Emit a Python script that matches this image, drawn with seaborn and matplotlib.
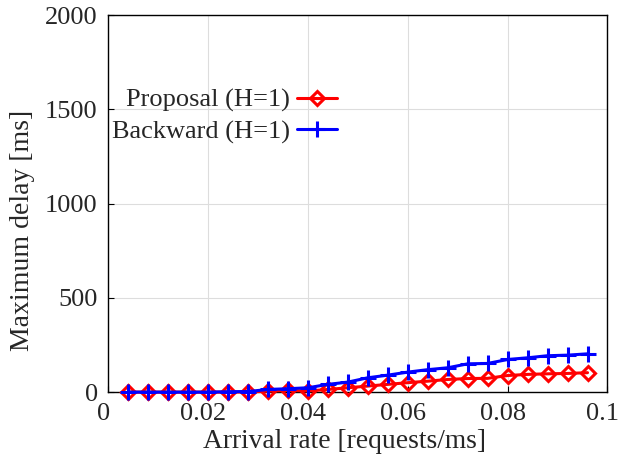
import numpy as np
import pandas as pd
import matplotlib
matplotlib.use("Agg")
import matplotlib.pyplot as plt
import matplotlib.transforms as mtransforms
import seaborn as sns

rates = [0.004, 0.008, 0.012, 0.016, 0.020, 0.024, 0.028, 0.032, 0.036, 0.040,
         0.044, 0.048, 0.052, 0.056, 0.060, 0.064, 0.068, 0.072, 0.076, 0.080,
         0.084, 0.088, 0.092, 0.096]
proposal = [0, 0, 0, 0, 0, 0, 1, 5, 9, 6, 14, 23, 32, 41, 50, 58, 67, 72, 73, 88,
            94, 97, 99, 103]
backward = [0, 0, 0, 0, 0, 2, 3, 14, 18, 23, 41, 53, 76, 90, 106, 119, 129, 150,
            152, 173, 182, 193, 196, 203]
labels = ["Proposal (H=1)", "Backward (H=1)"]

df_p = pd.DataFrame({"rate": rates, "delay": proposal})
df_b = pd.DataFrame({"rate": rates, "delay": backward})

sns.set_style("white")
plt.rcParams["font.family"] = ["Liberation Serif", "DejaVu Serif"]

FS = 19

fig, ax = plt.subplots(figsize=(6.18, 4.57), dpi=100)
fig.subplots_adjust(left=0.175, right=0.983, top=0.967, bottom=0.142)

sns.lineplot(data=df_p, x="rate", y="delay", color="#ff0000", linewidth=2.2,
             marker="D", markersize=7, markerfacecolor="none",
             markeredgewidth=2.2, markeredgecolor="#ff0000", ax=ax,
             label=labels[0], zorder=3, clip_on=False)
sns.lineplot(data=df_b, x="rate", y="delay", color="#0000ff", linewidth=2.2,
             marker="+", markersize=11, markeredgewidth=2.2,
             markeredgecolor="#0000ff", ax=ax, label=labels[1], zorder=4,
             clip_on=False)

ax.set_xlim(0, 0.1)
ax.set_ylim(0, 2000)
ax.set_xticks([0, 0.02, 0.04, 0.06, 0.08, 0.1])
ax.set_xticklabels(["0", "0.02", "0.04", "0.06", "0.08", "0.1"])
ax.set_yticks([0, 500, 1000, 1500, 2000])
ax.grid(True, color="#dddddd", linewidth=0.8)
ax.tick_params(direction="in", length=4, labelsize=FS, color="black",
               left=True, bottom=True, pad=7.5)
for sp in ax.spines.values():
    sp.set_color("black"); sp.set_linewidth(1)

# shift x tick labels slightly left as in the reference
offset = mtransforms.ScaledTranslation(-5 / 100, 0, fig.dpi_scale_trans)
for lbl in ax.get_xticklabels():
    lbl.set_transform(lbl.get_transform() + offset)

ax.set_xlabel("Arrival rate [requests/ms]", fontsize=19.8)
ax.set_ylabel("Maximum delay [ms]", fontsize=20)
ax.xaxis.set_label_coords(0.473, -0.098)
ax.yaxis.set_label_coords(-0.146, 0.43)

handles, labs = ax.get_legend_handles_labels()
order = [labs.index(labels[0]), labs.index(labels[1])]
ax.legend(handles=[handles[i] for i in order], labels=labels, loc="upper left",
          bbox_to_anchor=(-0.018, 0.84), markerfirst=False, frameon=False,
          fontsize=FS, handlelength=1.5, handletextpad=0.25, labelspacing=0.28,
          borderaxespad=0.1)

fig.savefig("out.png", dpi=100)
